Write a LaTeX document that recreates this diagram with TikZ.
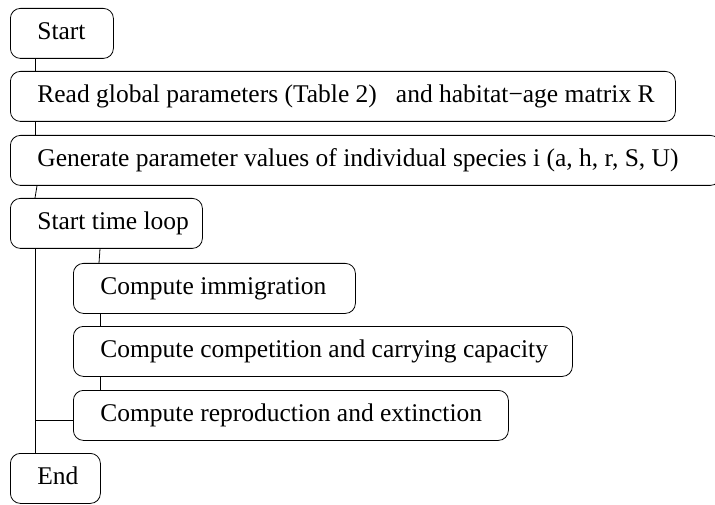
\documentclass[tikz,border=0pt]{standalone}
\usepackage{fontspec}
\setmainfont{Liberation Serif}
\usetikzlibrary{calc}
\newcommand{\lbox}[2]{\makebox[#1pt][l]{#2}}
\begin{document}
\begin{tikzpicture}[x=1pt,y=-1pt,
  stepbox/.style={draw, line width=0.8pt, rounded corners=10pt, anchor=north west,
    minimum height=50pt, inner xsep=27pt, inner ysep=0pt,
    text height=17pt, text depth=4pt,
    font=\fontsize{25.5}{30}\selectfont},
  link/.style={line width=0.8pt}]
\useasboundingbox (0,0) rectangle (715,505);
\node[stepbox] (start) at (10,8)   {\lbox{49}{Start}};
\node[stepbox] (read)  at (10,71)  {\lbox{611}{Read global parameters (Table 2)\hspace{19pt}and habitat\char"2212 age matrix R}};
\node[stepbox] (gen)   at (10,135) {\lbox{656}{Generate parameter values of individual species i (a, h, r, S, U)}};
\node[stepbox] (loop)  at (10,198) {\lbox{138}{Start time loop}};
\node[stepbox] (imm)   at (73,263) {\lbox{228}{Compute immigration}};
\node[stepbox] (comp)  at (73,326) {\lbox{445}{Compute competition and carrying capacity}};
\node[stepbox] (rep)   at (73,390) {\lbox{381}{Compute reproduction and extinction}};
\node[stepbox] (end)   at (10,453) {\lbox{36}{End}};
\draw[link] ($(start.south west)+(25,0)$) -- ($(read.north west)+(25,0)$);
\draw[link] ($(read.south west)+(25,0)$) -- ($(gen.north west)+(25,0)$);
\draw[link] ($(gen.south west)+(27,0)$) -- ($(loop.north west)+(25,0)$);
\draw[link] ($(loop.south west)+(90,0)$) -- ($(imm.north west)+(26,0)$);
\draw[link] ($(imm.south west)+(27,0)$) -- ($(comp.north west)+(27,0)$);
\draw[link] ($(comp.south west)+(27,0)$) -- ($(rep.north west)+(27,0)$);
\draw[link] ($(loop.south west)+(25,0)$) -- ($(end.north west)+(25,0)$);
\coordinate (j) at ($(loop.south west)+(25,172)$);
\draw[link] (j) -- (j -| rep.west);
\end{tikzpicture}
\end{document}
